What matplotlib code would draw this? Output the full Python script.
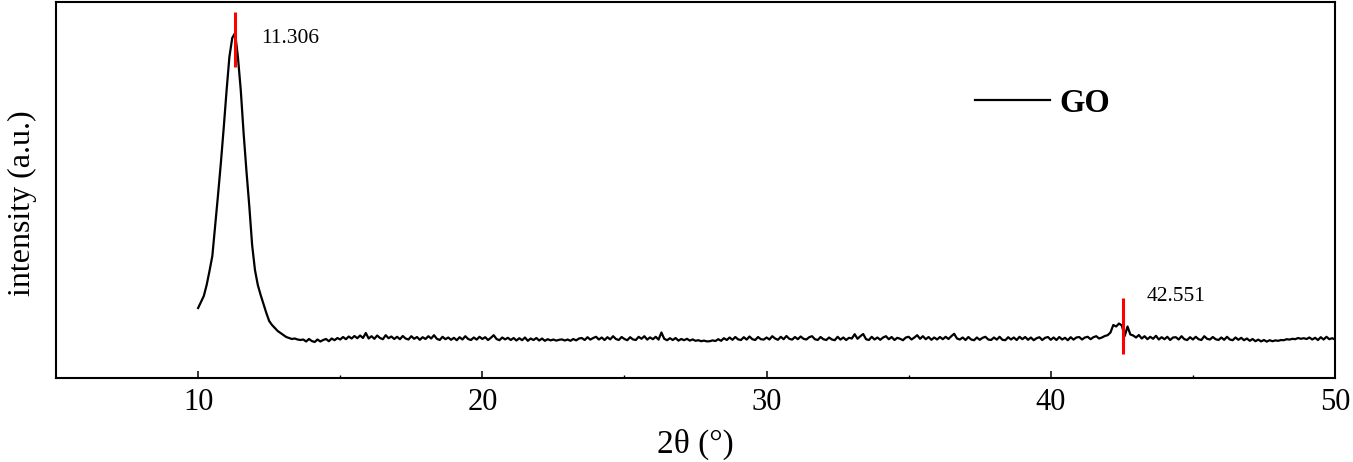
import numpy as np
import matplotlib
matplotlib.use("Agg")
from matplotlib import pyplot as plt

plt.rcParams['font.family'] = ['Liberation Serif', 'DejaVu Serif']

# 2theta scan, 0.1 deg step from 10 to 50
two_theta = np.round(np.arange(10.0, 50.05, 0.1), 1)

# intensity (arbitrary counts)
peak_part = [700, 760, 820, 930, 1070, 1220, 1520, 1830, 2150, 2500,
             2870, 3210, 3400, 3450, 3210, 2880, 2450, 2070, 1720, 1330,
             1080, 930, 830, 740, 650, 570, 530, 500, 470, 450,
             430, 410, 400, 390, 395, 385, 380]
baseline = [
    385, 365, 390,
    370, 360, 385, 365, 380, 390, 368, 395, 378, 400,
    385, 410, 388, 415, 395, 420, 398, 425, 400, 450,
    395, 418, 392, 425, 400, 388, 428, 398, 415, 390,
    412, 388, 420, 395, 385, 418, 392, 410, 382, 408,
    390, 418, 395, 428, 392, 380, 412, 388, 405, 382,
    402, 378, 408, 385, 418, 390, 380, 405, 384, 412,
    390, 408, 380, 402, 428, 390, 378, 405, 386, 402,
    380, 400, 375, 398, 378, 405, 372, 395, 380, 400,
    375, 395, 372, 388, 376, 385, 374, 382, 386, 375,
    385, 372, 390, 376, 395, 400, 380, 408, 384, 400,
    412, 385, 405, 380, 408, 386, 418, 390, 380, 410,
    390, 378, 408, 386, 380, 412, 392, 418, 384, 406,
    388, 412, 384, 455, 392, 378, 398, 380, 400, 374,
    390, 378, 392, 374, 386, 372, 378, 368, 374, 366,
    368, 376, 370, 388, 372, 398, 380, 405, 382, 410,
    386, 380, 408, 384, 415, 388, 380, 410, 388, 384,
    405, 385, 418, 395, 382, 412, 388, 420, 392, 384,
    410, 388, 415, 392, 385, 408, 418, 388, 380, 410,
    388, 380, 405, 385, 378, 412, 384, 405, 380, 402,
    395, 438, 392, 418, 440, 388, 380, 412, 385, 405,
    382, 405, 418, 388, 410, 380, 402, 392, 378, 405,
    412, 385, 405, 428, 392, 418, 388, 410, 382, 405,
    385, 410, 388, 412, 390, 418, 442, 395, 385, 405,
    380, 410, 385, 378, 405, 382, 402, 412, 385, 380,
    405, 384, 412, 382, 378, 408, 385, 405, 380, 412,
    388, 410, 382, 405, 378, 398, 408, 380, 402, 410,
    382, 405, 380, 410, 385, 402, 378, 408, 384, 405,
    410, 385, 405, 412, 388, 408, 418, 395, 405, 420,
    428, 455, 530, 515, 545, 525, 420, 515, 435, 425,
    405, 430, 395, 418, 388, 412, 392, 422, 385, 408,
    388, 412, 380, 405, 408, 385, 418, 388, 380, 408,
    385, 412, 388, 380, 418, 392, 385, 410, 388, 380,
    405, 382, 412, 385, 378, 405, 382, 402, 378, 395,
    372, 390, 368, 384, 366, 380, 364, 378, 368, 376,
    372, 380, 378, 388, 384, 392, 388, 400, 392, 398,
    390, 405, 385, 402, 380, 408, 385, 412, 388, 398,
    385]
intensity = np.array(peak_part + baseline)

peaks = [11.306, 42.551]
peak_labels = ['11.306', '42.551']
marker_spans = [(3110, 3660), (240, 800)]
label_pos = [(12.23, 3390), (43.38, 820)]

fig = plt.figure(figsize=(13.53, 4.62), dpi=100)
ax = fig.add_axes([0.0414, 0.1818, 0.9453, 0.8139])

ax.plot(two_theta, intensity, color='black', lw=1.6, label='GO')

for p, lab, (y0, y1), (tx, ty) in zip(peaks, peak_labels, marker_spans, label_pos):
    ax.vlines(p, y0, y1, color='red', lw=2.2)
    ax.text(tx, ty, lab, fontsize=15.5, va='center', ha='left')

ax.set_xlim(5, 50)
ax.set_ylim(0, 3760)
ax.set_xticks([10, 20, 30, 40, 50])
ax.set_xticks([15, 25, 35, 45], minor=True)
ax.set_yticks([])
ax.tick_params(axis='x', which='major', direction='in', length=5.4, width=1.1,
               labelsize=22, pad=7)
ax.tick_params(axis='x', which='minor', direction='in', length=2.5, width=1.0)
for s in ax.spines.values():
    s.set_linewidth(1.5)

ax.set_xlabel('2θ (°)', fontsize=24)
ax.xaxis.set_label_coords(0.5, -0.134)
ax.set_ylabel('intensity (a.u.)', fontsize=23)
ax.yaxis.set_label_coords(-0.0149, 0.465)

ax.legend(loc='center left', bbox_to_anchor=(975 / 1353, 1 - 103 / 462),
          bbox_transform=fig.transFigure, frameon=False, borderpad=0,
          borderaxespad=0, handlelength=2.3, handletextpad=0.3,
          prop={'family': 'Liberation Serif', 'weight': 'bold', 'size': 23.5})

fig.savefig('out.png', dpi=100)
